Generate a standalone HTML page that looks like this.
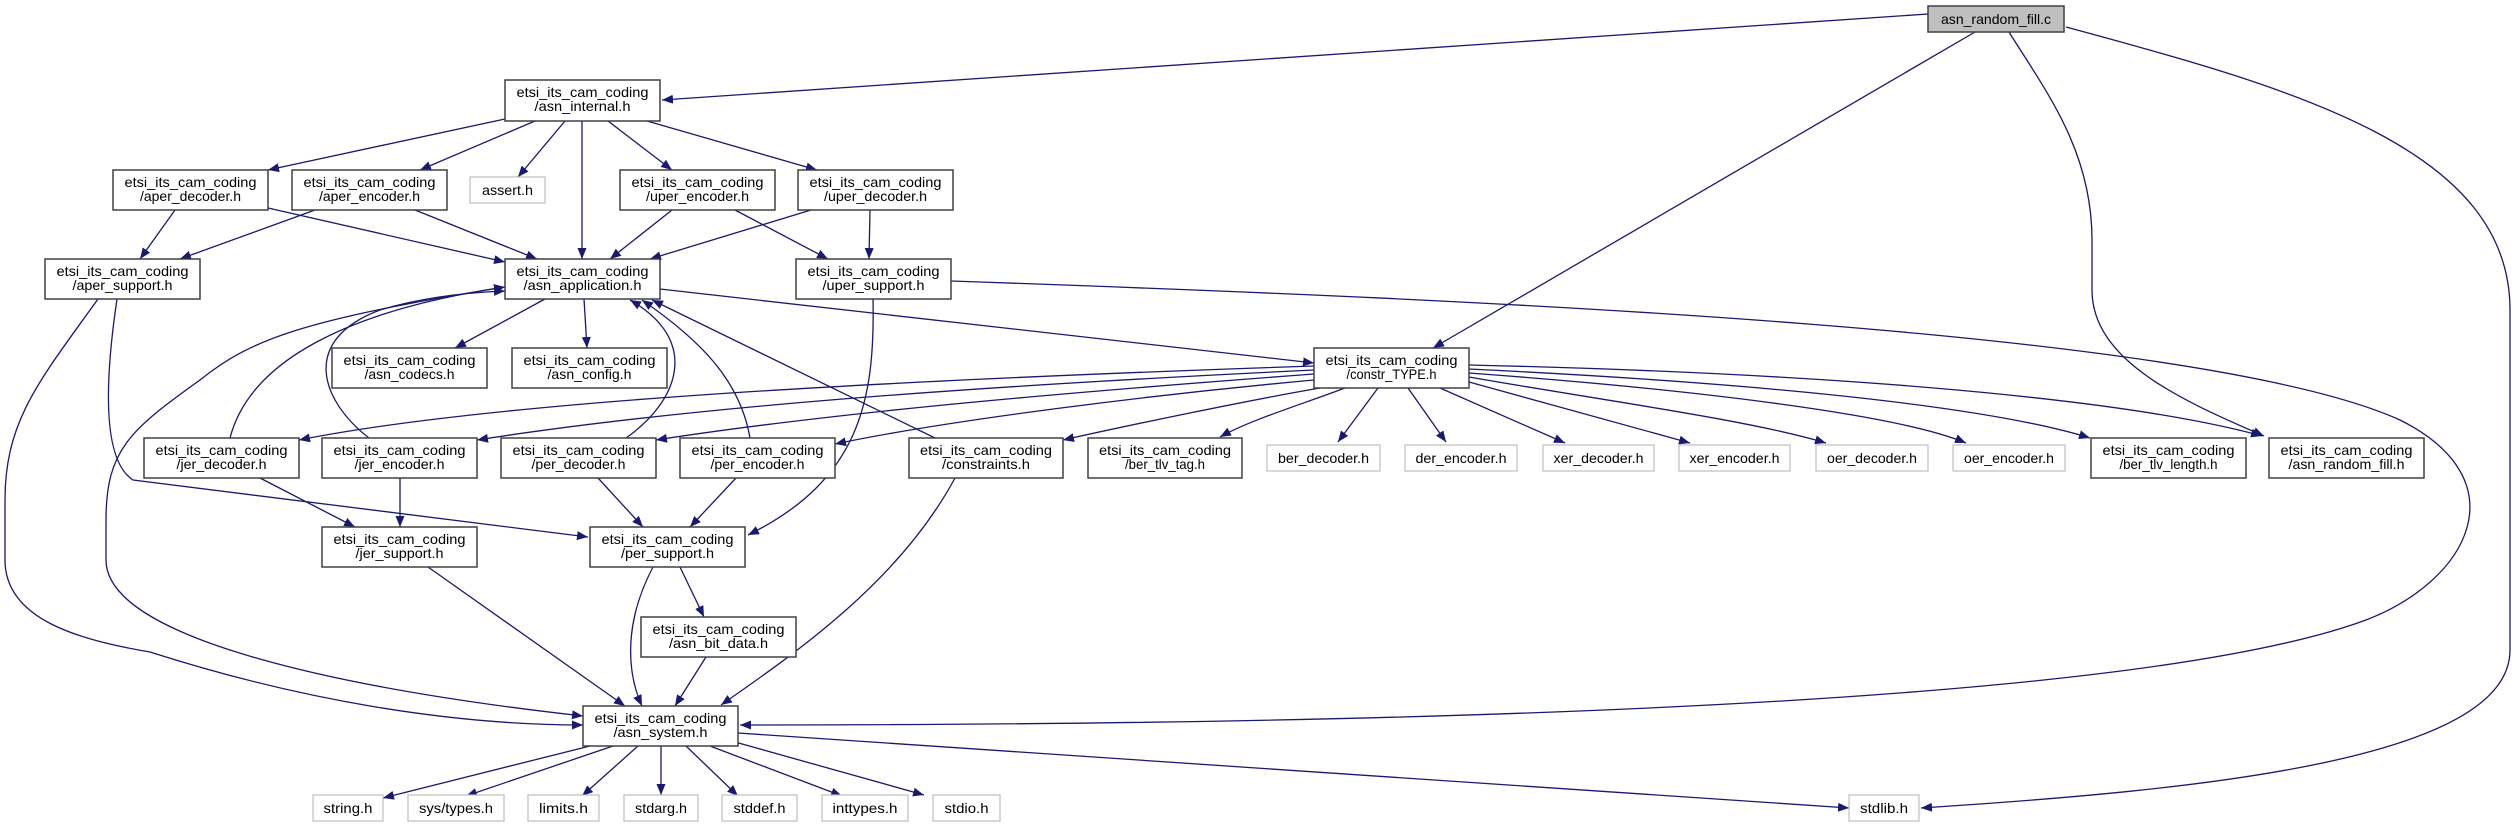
<!DOCTYPE html>
<html><head><meta charset="utf-8"><style>
html,body{margin:0;padding:0;background:#fff;}
svg{display:block;}
text{font-family:"Liberation Sans","DejaVu Sans",sans-serif;font-size:14px;fill:#000;}
.e{fill:none;stroke:#191970;stroke-width:1.3;marker-end:url(#a);}
.b{fill:#fff;stroke:#404040;stroke-width:1.5;}
.g{fill:#fff;stroke:#bfbfbf;stroke-width:1.2;}
</style></head><body>
<svg width="2517" height="827" viewBox="0 0 2517 827" xmlns="http://www.w3.org/2000/svg">
<defs><marker id="a" markerUnits="userSpaceOnUse" markerWidth="12" markerHeight="10" refX="11" refY="4.5" orient="auto"><path d="M0,0 L11,4.5 L0,9 z" fill="#191970"/></marker></defs>

<!-- edges -->
<path class="e" d="M1928,14 L662,100"/>
<path class="e" d="M1975,32 L1433,348"/>
<path class="e" d="M2009,32 C2045,90 2092,150 2092,240 L2092,290 C2092,360 2180,400 2264,436"/>
<path class="e" d="M2066,27 C2300,90 2510,150 2510,310 L2510,650 C2510,760 2200,790 1921,808"/>
<path class="e" d="M505,119 L268,170"/>
<path class="e" d="M535,121 L420,170"/>
<path class="e" d="M565,121 L518,177"/>
<path class="e" d="M582,121 L582,259"/>
<path class="e" d="M608,121 L672,170"/>
<path class="e" d="M647,121 L817,170"/>
<path class="e" d="M175,210 L140,259"/>
<path class="e" d="M268,208 L505,262"/>
<path class="e" d="M315,210 L180,259"/>
<path class="e" d="M415,210 L537,259"/>
<path class="e" d="M672,210 L610,259"/>
<path class="e" d="M735,210 L828,259"/>
<path class="e" d="M811,210 L650,259"/>
<path class="e" d="M870,210 L869,259"/>
<path class="e" d="M545,299 L455,348"/>
<path class="e" d="M584,299 L587,348"/>
<path class="e" d="M660,289 L1314,363"/>
<path class="e" d="M117,299 C105,380 102,460 133,480 L588,537"/>
<path class="e" d="M98,299 C40,380 5,420 5,500 L5,560 C5,620 80,640 150,652 C300,700 450,725 583,725"/>
<path class="e" d="M505,287 C300,320 250,340 200,380 C130,430 106,450 106,520 L106,560 C106,640 350,690 583,716"/>
<path class="e" d="M230,438 C250,360 350,310 505,287"/>
<path class="e" d="M369,438 C320,400 300,340 380,310 C430,295 480,292 505,291"/>
<path class="e" d="M626,438 C680,400 700,340 630,300"/>
<path class="e" d="M750,438 C740,380 700,340 642,300"/>
<path class="e" d="M935,438 L652,300"/>
<path class="e" d="M1314,366 C900,380 500,400 299,440"/>
<path class="e" d="M1314,370 C1000,385 700,405 477,440"/>
<path class="e" d="M1314,374 C1100,390 850,410 656,440"/>
<path class="e" d="M1314,380 C1150,395 950,420 835,444"/>
<path class="e" d="M1320,388 C1250,400 1130,425 1063,440"/>
<path class="e" d="M1345,388 C1300,405 1250,420 1220,437"/>
<path class="e" d="M1378,388 L1338,442"/>
<path class="e" d="M1408,388 L1446,442"/>
<path class="e" d="M1440,388 L1565,443"/>
<path class="e" d="M1469,382 L1690,443"/>
<path class="e" d="M1469,377 C1600,400 1750,420 1826,443"/>
<path class="e" d="M1469,373 C1700,390 1900,415 1966,443"/>
<path class="e" d="M1469,369 C1800,385 2000,410 2090,438"/>
<path class="e" d="M1469,365 C1900,375 2150,405 2262,436"/>
<path class="e" d="M260,478 L355,527"/>
<path class="e" d="M400,478 L400,527"/>
<path class="e" d="M598,478 L643,527"/>
<path class="e" d="M736,478 L690,527"/>
<path class="e" d="M873,299 C875,400 860,480 748,535"/>
<path class="e" d="M955,478 C900,580 800,650 721,705"/>
<path class="e" d="M428,567 L625,706"/>
<path class="e" d="M653,567 C620,630 630,680 642,706"/>
<path class="e" d="M680,567 L704,617"/>
<path class="e" d="M706,657 L675,706"/>
<path class="e" d="M951,281 C1500,300 2200,330 2400,420 C2520,480 2470,580 2366,620 C2150,700 1500,725 740,725"/>
<path class="e" d="M738,733 L1849,808"/>
<path class="e" d="M590,746 L383,798"/>
<path class="e" d="M613,746 L466,796"/>
<path class="e" d="M638,746 L582,796"/>
<path class="e" d="M661,746 L661,795"/>
<path class="e" d="M686,746 L738,796"/>
<path class="e" d="M710,746 L842,796"/>
<path class="e" d="M735,742 L924,795"/>

<!-- nodes -->
<rect x="1928" y="6" width="136" height="26" fill="#bfbfbf" stroke="#404040" stroke-width="1.5"/>
<text x="1996" y="24" text-anchor="middle" textLength="110" lengthAdjust="spacingAndGlyphs">asn_random_fill.c</text>

<g>
<rect class="b" x="505" y="80" width="155" height="41"/><text x="582.5" y="97" text-anchor="middle" textLength="132" lengthAdjust="spacingAndGlyphs">etsi_its_cam_coding</text><text x="582.5" y="111" text-anchor="middle" textLength="96" lengthAdjust="spacingAndGlyphs">/asn_internal.h</text>

<rect class="b" x="113" y="170" width="155" height="40"/><text x="190.5" y="187" text-anchor="middle" textLength="132" lengthAdjust="spacingAndGlyphs">etsi_its_cam_coding</text><text x="190.5" y="201" text-anchor="middle" textLength="101" lengthAdjust="spacingAndGlyphs">/aper_decoder.h</text>

<rect class="b" x="292" y="170" width="155" height="40"/><text x="369.5" y="187" text-anchor="middle" textLength="132" lengthAdjust="spacingAndGlyphs">etsi_its_cam_coding</text><text x="369.5" y="201" text-anchor="middle" textLength="101" lengthAdjust="spacingAndGlyphs">/aper_encoder.h</text>

<rect class="g" x="470" y="177" width="75" height="26"/><text x="507.5" y="195" text-anchor="middle" textLength="51" lengthAdjust="spacingAndGlyphs">assert.h</text>

<rect class="b" x="620" y="170" width="155" height="40"/><text x="697.5" y="187" text-anchor="middle" textLength="132" lengthAdjust="spacingAndGlyphs">etsi_its_cam_coding</text><text x="697.5" y="201" text-anchor="middle" textLength="103" lengthAdjust="spacingAndGlyphs">/uper_encoder.h</text>

<rect class="b" x="798" y="170" width="155" height="40"/><text x="875.5" y="187" text-anchor="middle" textLength="132" lengthAdjust="spacingAndGlyphs">etsi_its_cam_coding</text><text x="875.5" y="201" text-anchor="middle" textLength="103" lengthAdjust="spacingAndGlyphs">/uper_decoder.h</text>

<rect class="b" x="45" y="259" width="155" height="40"/><text x="122.5" y="276" text-anchor="middle" textLength="132" lengthAdjust="spacingAndGlyphs">etsi_its_cam_coding</text><text x="122.5" y="290" text-anchor="middle" textLength="100" lengthAdjust="spacingAndGlyphs">/aper_support.h</text>

<rect class="b" x="505" y="259" width="155" height="40"/><text x="582.5" y="276" text-anchor="middle" textLength="132" lengthAdjust="spacingAndGlyphs">etsi_its_cam_coding</text><text x="582.5" y="290" text-anchor="middle" textLength="118" lengthAdjust="spacingAndGlyphs">/asn_application.h</text>

<rect class="b" x="796" y="259" width="155" height="40"/><text x="873.5" y="276" text-anchor="middle" textLength="132" lengthAdjust="spacingAndGlyphs">etsi_its_cam_coding</text><text x="873.5" y="290" text-anchor="middle" textLength="102" lengthAdjust="spacingAndGlyphs">/uper_support.h</text>

<rect class="b" x="332" y="348" width="155" height="40"/><text x="409.5" y="365" text-anchor="middle" textLength="132" lengthAdjust="spacingAndGlyphs">etsi_its_cam_coding</text><text x="409.5" y="379" text-anchor="middle" textLength="90" lengthAdjust="spacingAndGlyphs">/asn_codecs.h</text>

<rect class="b" x="512" y="348" width="155" height="40"/><text x="589.5" y="365" text-anchor="middle" textLength="132" lengthAdjust="spacingAndGlyphs">etsi_its_cam_coding</text><text x="589.5" y="379" text-anchor="middle" textLength="84" lengthAdjust="spacingAndGlyphs">/asn_config.h</text>

<rect class="b" x="1314" y="348" width="155" height="40"/><text x="1391.5" y="365" text-anchor="middle" textLength="132" lengthAdjust="spacingAndGlyphs">etsi_its_cam_coding</text><text x="1391.5" y="379" text-anchor="middle" textLength="90" lengthAdjust="spacingAndGlyphs">/constr_TYPE.h</text>

<rect class="b" x="144" y="438" width="155" height="40"/><text x="221.5" y="455" text-anchor="middle" textLength="132" lengthAdjust="spacingAndGlyphs">etsi_its_cam_coding</text><text x="221.5" y="469" text-anchor="middle" textLength="90" lengthAdjust="spacingAndGlyphs">/jer_decoder.h</text>

<rect class="b" x="322" y="438" width="155" height="40"/><text x="399.5" y="455" text-anchor="middle" textLength="132" lengthAdjust="spacingAndGlyphs">etsi_its_cam_coding</text><text x="399.5" y="469" text-anchor="middle" textLength="90" lengthAdjust="spacingAndGlyphs">/jer_encoder.h</text>

<rect class="b" x="501" y="438" width="155" height="40"/><text x="578.5" y="455" text-anchor="middle" textLength="132" lengthAdjust="spacingAndGlyphs">etsi_its_cam_coding</text><text x="578.5" y="469" text-anchor="middle" textLength="94" lengthAdjust="spacingAndGlyphs">/per_decoder.h</text>

<rect class="b" x="680" y="438" width="155" height="40"/><text x="757.5" y="455" text-anchor="middle" textLength="132" lengthAdjust="spacingAndGlyphs">etsi_its_cam_coding</text><text x="757.5" y="469" text-anchor="middle" textLength="94" lengthAdjust="spacingAndGlyphs">/per_encoder.h</text>

<rect class="b" x="909" y="438" width="154" height="40"/><text x="986" y="455" text-anchor="middle" textLength="132" lengthAdjust="spacingAndGlyphs">etsi_its_cam_coding</text><text x="986" y="469" text-anchor="middle" textLength="88" lengthAdjust="spacingAndGlyphs">/constraints.h</text>

<rect class="b" x="1088" y="438" width="154" height="40"/><text x="1165" y="455" text-anchor="middle" textLength="132" lengthAdjust="spacingAndGlyphs">etsi_its_cam_coding</text><text x="1165" y="469" text-anchor="middle" textLength="80" lengthAdjust="spacingAndGlyphs">/ber_tlv_tag.h</text>

<rect class="g" x="1267" y="445" width="113" height="26"/><text x="1323.5" y="463" text-anchor="middle" textLength="91" lengthAdjust="spacingAndGlyphs">ber_decoder.h</text>
<rect class="g" x="1405" y="445" width="112" height="26"/><text x="1461" y="463" text-anchor="middle" textLength="91" lengthAdjust="spacingAndGlyphs">der_encoder.h</text>
<rect class="g" x="1543" y="445" width="111" height="26"/><text x="1598.5" y="463" text-anchor="middle" textLength="90" lengthAdjust="spacingAndGlyphs">xer_decoder.h</text>
<rect class="g" x="1679" y="445" width="111" height="26"/><text x="1734.5" y="463" text-anchor="middle" textLength="90" lengthAdjust="spacingAndGlyphs">xer_encoder.h</text>
<rect class="g" x="1816" y="445" width="112" height="26"/><text x="1872" y="463" text-anchor="middle" textLength="90" lengthAdjust="spacingAndGlyphs">oer_decoder.h</text>
<rect class="g" x="1953" y="445" width="112" height="26"/><text x="2009" y="463" text-anchor="middle" textLength="90" lengthAdjust="spacingAndGlyphs">oer_encoder.h</text>

<rect class="b" x="2091" y="438" width="155" height="40"/><text x="2168.5" y="455" text-anchor="middle" textLength="132" lengthAdjust="spacingAndGlyphs">etsi_its_cam_coding</text><text x="2168.5" y="469" text-anchor="middle" textLength="98" lengthAdjust="spacingAndGlyphs">/ber_tlv_length.h</text>

<rect class="b" x="2269" y="438" width="155" height="40"/><text x="2346.5" y="455" text-anchor="middle" textLength="132" lengthAdjust="spacingAndGlyphs">etsi_its_cam_coding</text><text x="2346.5" y="469" text-anchor="middle" textLength="116" lengthAdjust="spacingAndGlyphs">/asn_random_fill.h</text>

<rect class="b" x="322" y="527" width="155" height="40"/><text x="399.5" y="544" text-anchor="middle" textLength="132" lengthAdjust="spacingAndGlyphs">etsi_its_cam_coding</text><text x="399.5" y="558" text-anchor="middle" textLength="88" lengthAdjust="spacingAndGlyphs">/jer_support.h</text>

<rect class="b" x="590" y="527" width="155" height="40"/><text x="667.5" y="544" text-anchor="middle" textLength="132" lengthAdjust="spacingAndGlyphs">etsi_its_cam_coding</text><text x="667.5" y="558" text-anchor="middle" textLength="93" lengthAdjust="spacingAndGlyphs">/per_support.h</text>

<rect class="b" x="641" y="617" width="155" height="40"/><text x="718.5" y="634" text-anchor="middle" textLength="132" lengthAdjust="spacingAndGlyphs">etsi_its_cam_coding</text><text x="718.5" y="648" text-anchor="middle" textLength="99" lengthAdjust="spacingAndGlyphs">/asn_bit_data.h</text>

<rect class="b" x="583" y="706" width="155" height="40"/><text x="660.5" y="723" text-anchor="middle" textLength="132" lengthAdjust="spacingAndGlyphs">etsi_its_cam_coding</text><text x="660.5" y="737" text-anchor="middle" textLength="94" lengthAdjust="spacingAndGlyphs">/asn_system.h</text>

<rect class="g" x="313" y="795" width="70" height="26"/><text x="348" y="813" text-anchor="middle" textLength="49" lengthAdjust="spacingAndGlyphs">string.h</text>
<rect class="g" x="408" y="795" width="96" height="26"/><text x="456" y="813" text-anchor="middle" textLength="74" lengthAdjust="spacingAndGlyphs">sys/types.h</text>
<rect class="g" x="528" y="795" width="71" height="26"/><text x="563.5" y="813" text-anchor="middle" textLength="49" lengthAdjust="spacingAndGlyphs">limits.h</text>
<rect class="g" x="624" y="795" width="74" height="26"/><text x="661" y="813" text-anchor="middle" textLength="52" lengthAdjust="spacingAndGlyphs">stdarg.h</text>
<rect class="g" x="722" y="795" width="75" height="26"/><text x="759.5" y="813" text-anchor="middle" textLength="52" lengthAdjust="spacingAndGlyphs">stddef.h</text>
<rect class="g" x="822" y="795" width="86" height="26"/><text x="865" y="813" text-anchor="middle" textLength="65" lengthAdjust="spacingAndGlyphs">inttypes.h</text>
<rect class="g" x="933" y="795" width="67" height="26"/><text x="966.5" y="813" text-anchor="middle" textLength="44" lengthAdjust="spacingAndGlyphs">stdio.h</text>
<rect class="g" x="1849" y="795" width="70" height="26"/><text x="1884" y="813" text-anchor="middle" textLength="48" lengthAdjust="spacingAndGlyphs">stdlib.h</text>
</g>
</svg>
</body></html>
